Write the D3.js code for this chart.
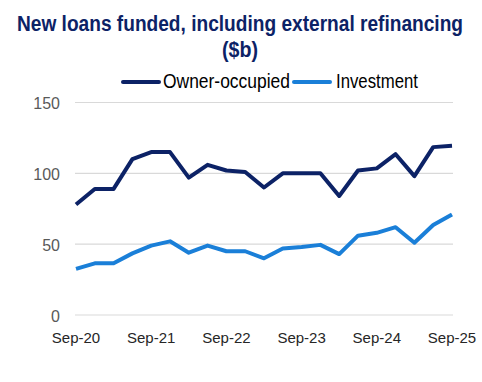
<!DOCTYPE html>
<html>
<head>
<meta charset="utf-8">
<script src="https://cdn.jsdelivr.net/npm/d3@7"></script>
<style>
  body { margin: 0; background: #fff; }
  text { font-family: "Liberation Sans", Arial, sans-serif; }
</style>
</head>
<body>
<div class="chart"></div>
<script>
// quarterly, Sep-20 .. Sep-25
const quarters = ["Sep-20","Dec-20","Mar-21","Jun-21","Sep-21","Dec-21","Mar-22","Jun-22","Sep-22","Dec-22",
                  "Mar-23","Jun-23","Sep-23","Dec-23","Mar-24","Jun-24","Sep-24","Dec-24","Mar-25","Jun-25","Sep-25"];
const ownerOccupied = [78, 89, 89, 110, 115, 115, 97, 106, 102, 101, 90, 100, 100, 100, 84, 102, 103.5, 113.5, 98, 118.5, 119.5];
const investment = [32.5, 36.5, 36.5, 43.5, 49, 52, 44, 49, 45, 45, 40, 47, 48, 49.5, 43, 56, 58, 62, 51, 63.5, 71];
const yTicks = [0, 50, 100, 150];
const xTickLabels = ["Sep-20","Sep-21","Sep-22","Sep-23","Sep-24","Sep-25"];

const W = 482, H = 382;
const plot = {left: 76, right: 452, top: 102.5, bottom: 315};

const svg = d3.select(".chart").append("svg")
    .attr("width", W)
    .attr("height", H);

const x = d3.scalePoint()
    .domain(quarters)
    .range([plot.left, plot.right]);

const y = d3.scaleLinear()
    .domain([0, 150])
    .range([plot.bottom, plot.top]);

// title - original font is tall and narrow, so stretch vertically
const stretch = 1.15;
const titleLines = [
    {text: "New loans funded, including external refinancing", y: 31, len: 446},
    {text: "($b)", y: 57, len: 36}
];
svg.append("g")
    .selectAll("text")
    .data(titleLines)
    .join("text")
    .attr("transform", d => "translate(240," + d.y + ") scale(1," + stretch + ")")
    .attr("text-anchor", "middle")
    .attr("font-size", 19).attr("font-weight", "bold")
    .attr("fill", "#0c2266")
    .attr("textLength", d => d.len)
    .attr("lengthAdjust", "spacingAndGlyphs")
    .text(d => d.text);

// gridlines
svg.append("g")
    .selectAll("line")
    .data(yTicks)
    .join("line")
    .attr("x1", plot.left - 1).attr("x2", plot.right + 1)
    .attr("y1", d => y(d)).attr("y2", d => y(d))
    .attr("stroke", "#d9d9d9")
    .attr("stroke-width", 1.2);

// y labels
svg.append("g")
    .selectAll("text")
    .data(yTicks)
    .join("text")
    .attr("x", 60)
    .attr("y", d => y(d) + 6.5)
    .attr("text-anchor", "end")
    .attr("font-size", 16)
    .attr("fill", "#595959")
    .text(d => d);

// x labels
svg.append("g")
    .selectAll("text")
    .data(xTickLabels)
    .join("text")
    .attr("x", d => x(d))
    .attr("y", 343)
    .attr("text-anchor", "middle")
    .attr("font-size", 15)
    .attr("fill", "#262626")
    .text(d => d);

const line = d3.line()
    .x((d, i) => x(quarters[i]))
    .y(d => y(d));

const series = [
    {name: "Owner-occupied", values: ownerOccupied, color: "#0c2266"},
    {name: "Investment", values: investment, color: "#1a7fd8"}
];

svg.append("g")
    .selectAll("path")
    .data(series)
    .join("path")
    .attr("d", d => line(d.values))
    .attr("fill", "none")
    .attr("stroke", d => d.color)
    .attr("stroke-width", 4)
    .attr("stroke-linejoin", "round");

// legend
const legendX = [122, 293];
const legendLen = [127, 82];
const lg = svg.append("g")
    .selectAll("g")
    .data(series)
    .join("g")
    .attr("transform", (d, i) => "translate(" + legendX[i] + ",82)");
lg.append("line")
    .attr("x1", 1).attr("x2", 37)
    .attr("y1", 0).attr("y2", 0)
    .attr("stroke", d => d.color)
    .attr("stroke-width", 4)
    .attr("stroke-linecap", "round");
lg.append("text")
    .attr("transform", (d, i) => "translate(" + (i === 0 ? 41 : 43) + ",5.5) scale(1," + stretch + ")")
    .attr("font-size", 17.5)
    .attr("fill", "#000")
    .attr("textLength", (d, i) => legendLen[i])
    .attr("lengthAdjust", "spacingAndGlyphs")
    .text(d => d.name);
</script>
</body>
</html>
